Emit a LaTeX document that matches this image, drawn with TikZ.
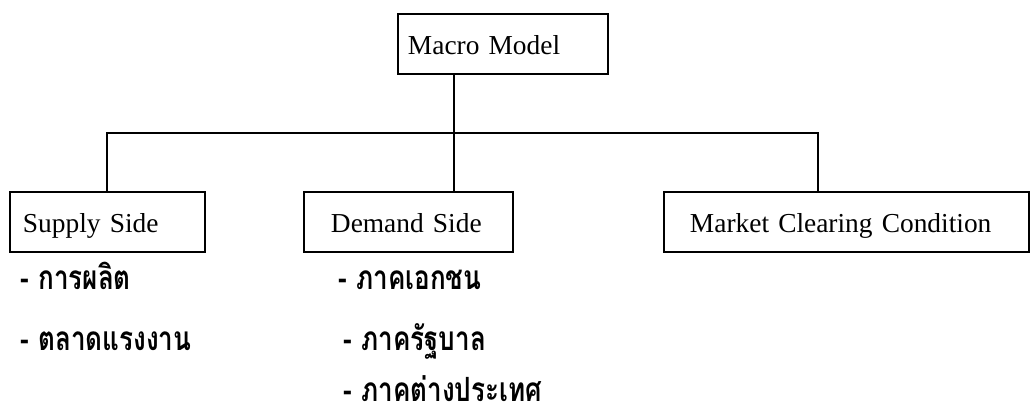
\documentclass[tikz,border=0pt]{standalone}
\usepackage{fontspec}
\setmainfont{Liberation Serif}
\newfontfamily\thaifont[Script=Thai,FakeStretch=0.78]{Loma}
\usetikzlibrary{positioning}

\tikzset{
  box/.style={draw,line width=1.1pt,anchor=north west,minimum height=1.2cm,
    text height=16.5pt,text depth=4pt,align=left,font=\fontsize{15.6}{18}\selectfont},
  item/.style={anchor=base west,inner sep=0pt,font=\thaifont\bfseries\fontsize{19}{22}\selectfont}
}

\begin{document}
\begin{tikzpicture}[x=0.02cm,y=-0.02cm,line width=1.1pt]
\useasboundingbox (0,0) rectangle (1031,409);

\node[box,inner xsep=0.2cm,text width=3.8cm](macro) at (397,13) {Macro Model};
\node[box,inner xsep=0.26cm,text width=3.38cm](supply) at (9,191) {Supply Side};
\node[box,inner xsep=0.54cm,text width=3.1cm](demand) at (303,191) {Demand Side};
\node[box,inner xsep=0.52cm,text width=6.26cm](market) at (663,191) {Market Clearing Condition};

\coordinate (L) at (107,133);
\coordinate (J) at (454,133);
\coordinate (R) at (818,133);

\draw (macro.south -| J)--(demand.north -| J);
\draw (supply.north -| L)--(L)--(R)--(market.north -| R);

\node[item](s1) at (20,289) {- การผลิต};
\node[item](s2) at (20,350) {- ตลาดแรงงาน};
\node[item](d1) at (338,289) {- ภาคเอกชน};
\node[item](d2) at (343,350) {- ภาครัฐบาล};
\node[item](d3) at (343,401) {- ภาคต่างประเทศ};

\end{tikzpicture}
\end{document}
